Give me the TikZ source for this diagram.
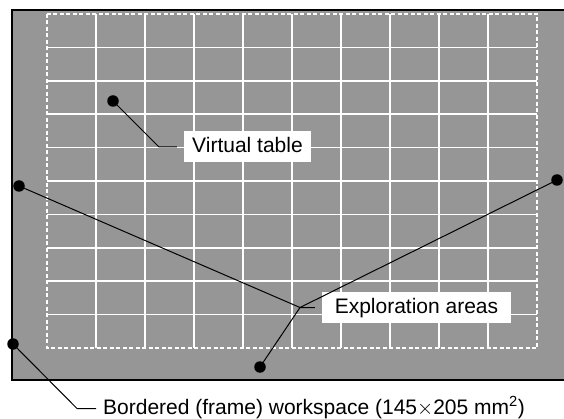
\documentclass[tikz,border=0pt]{standalone}
\usepackage{fontspec}
\setmainfont{Liberation Sans}
\definecolor{deskgray}{RGB}{150,150,150}
\tikzstyle{gridline} = [white, line width=1.6pt]
\tikzstyle{dot} = [circle, fill=black, inner sep=0pt, minimum size=11.5pt]
\tikzstyle{callout} = [fill=white, inner sep=0pt, minimum height=31pt, text height=15pt, text depth=4pt, font=\fontsize{21}{25}\selectfont]
\tikzstyle{leader} = [black, line width=1pt]

\begin{document}
\begin{tikzpicture}[x=1pt, y=-1pt]
    \useasboundingbox (0,0) rectangle (564,419);
    \clip (0,0) rectangle (564,419);

    % Workspace
    \draw [line width=2pt, fill=deskgray] (12,10) rectangle (580,380);

    % Virtual table
    \foreach \i in {1,...,9} \draw [gridline] ({47+49*\i},14) -- ({47+49*\i},348);
    \foreach \j in {1,...,9} \draw [gridline] (47,{14+33.4*\j}) -- (537,{14+33.4*\j});
    \draw [white, line width=1.5pt, dash pattern=on 4pt off 2.5pt] (47,14) rectangle (537,348);

    % Dots
    \node (vtdot) at (113,101) [dot] {};
    \node (eleft) at (19,186) [dot] {};
    \node (eright) at (557,180) [dot] {};
    \node (ebottom) at (260,367) [dot] {};
    \node (wsdot) at (13,344) [dot] {};

    % Labels
    \node (vt) at (247.5,147) [callout, minimum width=127pt] {Virtual table};
    \node (ea) at (416.5,307.5) [callout, minimum width=189pt] {Exploration areas};
    \node (ws) at (103,408.5) [callout, anchor=west] {Bordered (frame) workspace (145$\times$205 mm\textsuperscript{2})};

    % Leaders
    \coordinate (vtkink) at (159,147);
    \coordinate (ejoin) at (300,307.5);
    \coordinate (wskink) at (77,408.5);
    \draw [leader, shorten >=7pt] (vtdot.center) -- (vtkink) -- (vt.west);
    \draw [leader, shorten >=7pt] (eleft.center) -- (ejoin) -- (ea.west);
    \draw [leader] (eright.center) -- (ejoin);
    \draw [leader] (ebottom.center) -- (ejoin);
    \draw [leader, shorten >=7pt] (wsdot.center) -- (wskink) -- (ws.west);
\end{tikzpicture}
\end{document}
